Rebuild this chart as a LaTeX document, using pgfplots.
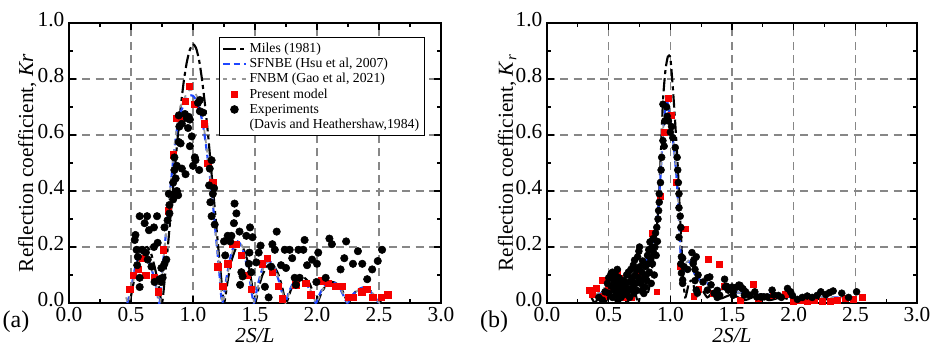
\documentclass[border=0pt]{standalone}
\usepackage{fontspec}
\setmainfont{Liberation Serif}
\usepackage{pgfplots}
\pgfplotsset{compat=1.18}

\definecolor{sfblue}{RGB}{30,70,255}
\definecolor{fngray}{RGB}{150,150,150}
\definecolor{gridgray}{RGB}{135,135,135}
\definecolor{mred}{RGB}{245,0,0}

\pgfplotsset{
  myaxis/.style={
    scale only axis, height=210pt,
    xmin=0, xmax=3, ymin=0, ymax=1,
    xtick={0,0.5,1,1.5,2,2.5,3}, ytick={0,0.2,0.4,0.6,0.8,1},
    minor x tick num=1, minor y tick num=1,
    /pgf/number format/fixed, /pgf/number format/fixed zerofill, /pgf/number format/precision=1,
    /pgf/number format/assume math mode=true,
    tick align=inside, major tick length=5pt, minor tick length=3pt,
    every tick/.style={black, line width=0.9pt},
    axis line style={line width=1.3pt},
    grid=major, major grid style={gridgray, line width=0.8pt, dash pattern=on 6pt off 4pt},
    ticklabel style={font=\fontsize{16}{18}\selectfont},
    yticklabel style={yshift=2.5pt},
    label style={font=\fontsize{16}{18}\selectfont},
    xlabel={\textit{2S/L}},
    xlabel style={at={(axis description cs:0.5,0)}, anchor=center, yshift=-24.5pt},
  },
  miles/.style={black, line width=1.6pt, dash pattern=on 10pt off 3pt on 3pt off 3pt, smooth, tension=0.4},
  sfnbe/.style={sfblue, line width=1.6pt, dash pattern=on 5pt off 3pt, smooth, tension=0.4},
  fnbm/.style={fngray, line width=1.3pt, dash pattern=on 3pt off 4pt, smooth, tension=0.4},
}

\begin{document}
\begin{tikzpicture}
\path[use as bounding box] (0,0) rectangle (697.5pt,260.25pt);

% ---------------- panel (a) ----------------
\begin{axis}[myaxis, at={(51.75pt,33pt)}, anchor=south west, width=279pt,
  ylabel={Reflection coefficient, \textit{Kr}},
  ylabel style={at={(axis description cs:-0.112,0.5)}, anchor=center},
  legend style={at={(rel axis cs:0.957,0.95)}, anchor=north east, draw=black, line width=0.8pt,
    font=\fontsize{10.3}{11}\selectfont, legend cell align=left, row sep=-1.2pt, inner sep=2pt},
]
\addplot[miles] coordinates {
(0.49,0.0) (0.52,0.07) (0.56,0.14) (0.60,0.19) (0.63,0.20) (0.66,0.18) (0.69,0.13) (0.72,0.07) (0.75,0.0)
(0.775,0.10) (0.80,0.215) (0.825,0.34) (0.85,0.46) (0.875,0.585) (0.90,0.695) (0.925,0.79) (0.95,0.86) (0.975,0.905) (1.0,0.925)
(1.025,0.91) (1.05,0.865) (1.075,0.79) (1.10,0.695) (1.125,0.585) (1.15,0.46) (1.175,0.34) (1.20,0.215) (1.225,0.10) (1.25,0.0)
(1.28,0.08) (1.31,0.15) (1.345,0.195) (1.375,0.21) (1.405,0.195) (1.44,0.15) (1.47,0.08) (1.50,0.0)
(1.53,0.055) (1.56,0.10) (1.595,0.13) (1.625,0.14) (1.655,0.13) (1.69,0.10) (1.72,0.055) (1.75,0.0)
(1.78,0.035) (1.81,0.07) (1.845,0.088) (1.875,0.095) (1.905,0.088) (1.94,0.07) (1.97,0.035) (2.0,0.0)
(2.03,0.03) (2.06,0.055) (2.095,0.07) (2.125,0.075) (2.155,0.07) (2.19,0.055) (2.22,0.03) (2.25,0.0)
(2.28,0.02) (2.31,0.04) (2.345,0.05) (2.375,0.055) (2.405,0.05) (2.44,0.04) (2.47,0.02) (2.50,0.0)
(2.53,0.02) (2.56,0.035)
};
\addlegendentry{Miles (1981)}
\addplot[sfnbe] coordinates {
(0.47,0.0) (0.50,0.05) (0.53,0.12) (0.56,0.165) (0.59,0.18) (0.62,0.17) (0.66,0.13) (0.70,0.065) (0.73,0.0)
(0.76,0.15) (0.80,0.33) (0.84,0.51) (0.87,0.62) (0.90,0.68) (0.94,0.72) (0.97,0.74) (1.0,0.74) (1.03,0.72) (1.06,0.68)
(1.09,0.61) (1.12,0.51) (1.15,0.40) (1.18,0.26) (1.21,0.12) (1.235,0.0)
(1.27,0.09) (1.30,0.16) (1.33,0.205) (1.36,0.22) (1.39,0.205) (1.42,0.16) (1.455,0.09) (1.49,0.0)
(1.52,0.06) (1.55,0.11) (1.58,0.14) (1.61,0.15) (1.64,0.14) (1.67,0.11) (1.705,0.06) (1.74,0.0)
(1.77,0.035) (1.80,0.065) (1.83,0.08) (1.86,0.085) (1.89,0.08) (1.92,0.065) (1.955,0.035) (1.99,0.0)
(2.02,0.03) (2.05,0.055) (2.08,0.07) (2.115,0.075) (2.15,0.07) (2.18,0.055) (2.21,0.03) (2.245,0.0)
(2.28,0.025) (2.31,0.04) (2.34,0.05) (2.37,0.055) (2.40,0.05) (2.43,0.04) (2.465,0.025) (2.50,0.0)
(2.53,0.02) (2.56,0.035)
};
\addlegendentry{SFNBE (Hsu et al, 2007)}
\addplot[fnbm] coordinates {
(0.46,0.02) (0.48,0.0) (0.51,0.06) (0.54,0.12) (0.57,0.16) (0.60,0.175) (0.63,0.165) (0.67,0.12) (0.70,0.07) (0.735,0.0)
(0.76,0.14) (0.80,0.33) (0.84,0.52) (0.87,0.63) (0.90,0.70) (0.94,0.74) (0.97,0.76) (1.0,0.76) (1.03,0.74) (1.06,0.70)
(1.09,0.62) (1.12,0.52) (1.15,0.41) (1.18,0.27) (1.21,0.13) (1.24,0.0)
(1.275,0.09) (1.305,0.16) (1.335,0.205) (1.365,0.22) (1.395,0.205) (1.425,0.16) (1.46,0.09) (1.495,0.0)
(1.525,0.06) (1.555,0.11) (1.585,0.14) (1.615,0.15) (1.645,0.14) (1.675,0.11) (1.71,0.06) (1.745,0.0)
(1.775,0.035) (1.805,0.065) (1.835,0.08) (1.865,0.085) (1.895,0.08) (1.925,0.065) (1.96,0.035) (1.995,0.0)
(2.025,0.03) (2.055,0.055) (2.085,0.07) (2.12,0.075) (2.155,0.07) (2.185,0.055) (2.215,0.03) (2.25,0.0)
(2.285,0.025) (2.315,0.04) (2.345,0.05) (2.375,0.055) (2.405,0.05) (2.435,0.04) (2.47,0.025) (2.505,0.0)
(2.535,0.02) (2.565,0.035)
};
\addlegendentry{FNBM (Gao et al, 2021)}
\addplot[only marks, mark=square*, mark size=2.4pt, color=mred] coordinates {
(0.49,0.05) (0.52,0.10) (0.56,0.12) (0.59,0.16) (0.62,0.10) (0.69,0.09) (0.72,0.04) (0.76,0.19) (0.80,0.33)
(0.84,0.53) (0.87,0.66) (0.90,0.66) (0.94,0.72) (0.97,0.775) (1.01,0.71) (1.09,0.64) (1.12,0.50) (1.16,0.43)
(1.20,0.13) (1.24,0.06) (1.28,0.14) (1.32,0.21) (1.35,0.21) (1.39,0.17) (1.44,0.10) (1.47,0.05) (1.56,0.14)
(1.60,0.16) (1.64,0.11) (1.69,0.06) (1.72,0.015) (1.83,0.065) (1.91,0.07) (1.95,0.03) (2.04,0.08) (2.09,0.07)
(2.15,0.06) (2.20,0.06) (2.25,0.02) (2.29,0.02) (2.36,0.04) (2.40,0.05) (2.45,0.02) (2.52,0.02) (2.57,0.03)
};
\addlegendentry{Present model}
\addplot[only marks, mark=*, mark size=2.8pt, color=black] coordinates {
(0.536,0.243) (0.53,0.225) (0.545,0.19) (0.555,0.165) (0.55,0.135) (0.57,0.31) (0.61,0.285) (0.63,0.31)
(0.645,0.26) (0.685,0.27) (0.71,0.31) (0.685,0.20) (0.715,0.215) (0.59,0.19) (0.62,0.18) (0.635,0.155)
(0.665,0.13) (0.69,0.075) (0.57,0.057) (0.57,0.09) (0.73,0.085) (0.745,0.125) (0.755,0.09) (0.77,0.14)
(0.785,0.155) (0.745,0.075) (0.77,0.27) (0.795,0.295) (0.81,0.32) (0.81,0.35) (0.805,0.39) (0.84,0.43)
(0.85,0.39) (0.84,0.37) (0.87,0.40) (0.88,0.385) (0.86,0.445) (0.85,0.475) (0.87,0.49) (0.85,0.52)
(0.91,0.48) (1.0,0.49) (1.02,0.51) (1.05,0.475) (0.885,0.67) (0.935,0.675) (0.95,0.66) (0.965,0.665)
(0.975,0.655) (0.91,0.64) (0.89,0.63) (0.96,0.625) (1.055,0.685) (1.055,0.725) (1.04,0.715) (1.08,0.68)
(0.885,0.575) (0.90,0.57) (0.99,0.595) (0.975,0.56) (1.015,0.52) (0.94,0.46)
(1.135,0.48) (1.15,0.51) (1.17,0.41) (1.16,0.39) (1.14,0.36) (1.13,0.42) (1.15,0.31) (1.175,0.28)
(1.25,0.22) (1.28,0.24) (1.31,0.24) (1.30,0.22) (1.26,0.17) (1.335,0.355) (1.35,0.32) (1.33,0.285)
(1.375,0.255) (1.43,0.24) (1.46,0.27) (1.48,0.235) (1.39,0.11) (1.40,0.095) (1.38,0.065) (1.455,0.18)
(1.45,0.14) (1.47,0.11) (1.51,0.145) (1.53,0.18) (1.545,0.205) (1.58,0.058) (1.61,0.02) (1.63,0.13)
(1.64,0.21) (1.66,0.19) (1.675,0.255) (1.71,0.135) (1.74,0.19) (1.75,0.125) (1.78,0.19) (1.80,0.16)
(1.82,0.09) (1.83,0.065) (1.85,0.19) (1.86,0.09) (1.90,0.225) (1.89,0.19) (1.92,0.135) (1.96,0.155)
(1.995,0.075) (2.01,0.18) (2.0,0.14) (2.07,0.09) (2.10,0.23) (2.12,0.21) (2.19,0.12) (2.22,0.16)
(2.235,0.22) (2.29,0.14) (2.33,0.185) (2.365,0.14) (2.405,0.085) (2.445,0.12) (2.49,0.15) (2.525,0.19)
};
\addlegendentry{Experiments}
\addlegendimage{empty legend}
\addlegendentry{(Davis and Heathershaw,1984)}
\end{axis}

% ---------------- panel (b) ----------------
\begin{axis}[myaxis, at={(410.25pt,33pt)}, anchor=south west, width=277.5pt,
  ylabel={Reflection coefficient, \textit{K}\textsubscript{\textit{r}}},
  ylabel style={at={(axis description cs:-0.108,0.5)}, anchor=center},
]
\addplot[miles] coordinates {
(0.36,0.02) (0.39,0.0) (0.43,0.03) (0.47,0.0) (0.52,0.04) (0.56,0.0) (0.61,0.05) (0.65,0.0) (0.70,0.06) (0.74,0.0)
(0.78,0.08) (0.82,0.04) (0.86,0.15) (0.90,0.32) (0.92,0.50) (0.94,0.72) (0.96,0.83) (0.98,0.88) (1.0,0.875)
(1.02,0.77) (1.04,0.64) (1.06,0.49) (1.08,0.30) (1.10,0.12) (1.12,0.02) (1.15,0.07) (1.18,0.08) (1.21,0.02)
(1.25,0.05) (1.30,0.02) (1.35,0.04) (1.40,0.015) (1.50,0.03) (1.60,0.01) (1.70,0.025) (1.80,0.01) (1.90,0.02)
(2.0,0.01) (2.2,0.015) (2.4,0.01) (2.55,0.02)
};
\addplot[sfnbe] coordinates {
(0.40,0.02) (0.45,0.04) (0.50,0.06) (0.55,0.05) (0.60,0.07) (0.65,0.08) (0.70,0.10) (0.75,0.12) (0.80,0.15)
(0.85,0.20) (0.88,0.26) (0.90,0.32) (0.92,0.45) (0.94,0.60) (0.96,0.70) (0.975,0.72) (0.99,0.68) (1.01,0.62)
(1.03,0.55) (1.05,0.45) (1.06,0.38) (1.07,0.30) (1.08,0.20) (1.09,0.12) (1.10,0.10) (1.12,0.13) (1.15,0.15)
(1.18,0.13) (1.20,0.10) (1.25,0.08) (1.30,0.07) (1.35,0.05) (1.40,0.05) (1.50,0.04) (1.60,0.035) (1.70,0.03)
(1.80,0.03) (1.90,0.025) (2.0,0.02) (2.2,0.02) (2.5,0.02)
};
\addplot[fnbm] coordinates {
(0.40,0.03) (0.45,0.05) (0.50,0.06) (0.55,0.06) (0.60,0.07) (0.65,0.09) (0.70,0.10) (0.75,0.13) (0.80,0.16)
(0.85,0.21) (0.88,0.27) (0.90,0.33) (0.92,0.46) (0.94,0.61) (0.96,0.71) (0.975,0.73) (0.99,0.69) (1.01,0.63)
(1.03,0.56) (1.05,0.46) (1.06,0.39) (1.07,0.31) (1.08,0.21) (1.09,0.13) (1.10,0.11) (1.12,0.14) (1.15,0.15)
(1.18,0.13) (1.20,0.11) (1.25,0.08) (1.30,0.07) (1.35,0.055) (1.40,0.05) (1.50,0.04) (1.60,0.035) (1.70,0.03)
(1.80,0.03) (1.90,0.025) (2.0,0.02) (2.2,0.02) (2.5,0.02)
};
\addplot[only marks, mark=square*, mark size=2.2pt, color=mred] coordinates {
(0.34,0.046) (0.365,0.03) (0.40,0.053) (0.445,0.08) (0.455,0.025) (0.50,0.05) (0.57,0.11) (0.59,0.09)
(0.625,0.046) (0.62,0.02) (0.68,0.02) (0.745,0.10) (0.85,0.25) (0.89,0.04) (0.92,0.38) (0.95,0.61)
(0.98,0.73) (1.01,0.67) (1.045,0.43) (1.08,0.13) (1.12,0.265) (1.19,0.025) (1.23,0.05) (1.31,0.157)
(1.35,0.035) (1.395,0.137) (1.44,0.06) (1.565,0.01) (1.67,0.068) (1.71,0.018) (1.83,0.028) (1.93,0.032)
(1.995,0.007) (2.05,0.01) (2.11,0.007) (2.17,0.01) (2.23,0.007) (2.30,0.007) (2.35,0.01) (2.42,0.018)
(2.48,0.014) (2.555,0.02)
};
\addplot[only marks, mark=*, mark size=2.6pt, color=black] coordinates {
(0.42,0.02) (0.45,0.01) (0.47,0.04) (0.49,0.07) (0.50,0.09) (0.50,0.035) (0.51,0.093) (0.52,0.105)
(0.52,0.06) (0.53,0.11) (0.53,0.02) (0.54,0.08) (0.545,0.045) (0.55,0.057) (0.555,0.10) (0.56,0.03)
(0.565,0.075) (0.57,0.12) (0.575,0.01) (0.58,0.046) (0.585,0.09) (0.59,0.06) (0.60,0.02) (0.60,0.07)
(0.61,0.045) (0.62,0.08) (0.625,0.03) (0.63,0.065) (0.64,0.057) (0.645,0.10) (0.65,0.04) (0.66,0.11)
(0.665,0.075) (0.67,0.02) (0.675,0.05) (0.68,0.12) (0.685,0.08) (0.69,0.09) (0.70,0.135) (0.70,0.06)
(0.705,0.035) (0.71,0.153) (0.715,0.10) (0.72,0.07) (0.725,0.12) (0.73,0.045) (0.735,0.165) (0.74,0.09)
(0.745,0.185) (0.75,0.20) (0.755,0.13) (0.76,0.07) (0.765,0.08) (0.77,0.11) (0.775,0.15) (0.78,0.05)
(0.785,0.034) (0.79,0.09) (0.795,0.057) (0.80,0.13) (0.805,0.10) (0.81,0.08) (0.815,0.17) (0.82,0.14)
(0.825,0.19) (0.83,0.11) (0.835,0.218) (0.84,0.16) (0.845,0.07) (0.85,0.20) (0.855,0.14) (0.86,0.23)
(0.865,0.18) (0.87,0.10) (0.875,0.20) (0.88,0.25) (0.885,0.17) (0.89,0.27) (0.895,0.22) (0.90,0.30)
(0.905,0.33) (0.91,0.36) (0.91,0.39) (0.92,0.43) (0.925,0.475) (0.93,0.52) (0.94,0.58) (0.95,0.56)
(0.955,0.65) (0.94,0.71) (0.97,0.70) (0.975,0.667) (0.985,0.65) (1.0,0.61) (1.01,0.63) (1.02,0.59)
(1.04,0.555) (1.055,0.52) (1.06,0.475) (1.065,0.43) (1.07,0.39) (1.07,0.34) (1.08,0.31) (1.085,0.27)
(1.07,0.235) (1.09,0.165) (1.085,0.14) (1.09,0.107) (1.10,0.07) (1.10,0.16) (1.11,0.13) (1.14,0.12)
(1.10,0.082) (1.175,0.18) (1.19,0.153) (1.21,0.165) (1.185,0.14) (1.20,0.12) (1.225,0.10) (1.20,0.08)
(1.21,0.046) (1.22,0.035) (1.265,0.075) (1.30,0.046) (1.30,0.09) (1.32,0.093) (1.33,0.065) (1.355,0.035)
(1.38,0.045) (1.38,0.02) (1.40,0.028) (1.44,0.085) (1.445,0.057) (1.455,0.06) (1.47,0.046) (1.50,0.057)
(1.51,0.028) (1.51,0.04) (1.54,0.057) (1.555,0.064) (1.565,0.063) (1.58,0.053) (1.59,0.05) (1.60,0.028)
(1.61,0.04) (1.645,0.028) (1.685,0.04) (1.70,0.022) (1.73,0.022) (1.74,0.022) (1.76,0.022) (1.785,0.022)
(1.825,0.046) (1.84,0.028) (1.875,0.027) (1.90,0.02) (1.95,0.052) (1.975,0.04) (1.99,0.027) (2.03,0.013)
(2.07,0.02) (2.11,0.025) (2.15,0.02) (2.19,0.027) (2.22,0.04) (2.26,0.03) (2.29,0.037) (2.32,0.043)
(2.39,0.035) (2.445,0.02) (2.51,0.04)
};
\end{axis}

\node[font=\fontsize{18}{20}\selectfont] at (12pt,18.75pt) {(a)};
\node[font=\fontsize{18}{20}\selectfont] at (370.5pt,18.75pt) {(b)};
\end{tikzpicture}
\end{document}
